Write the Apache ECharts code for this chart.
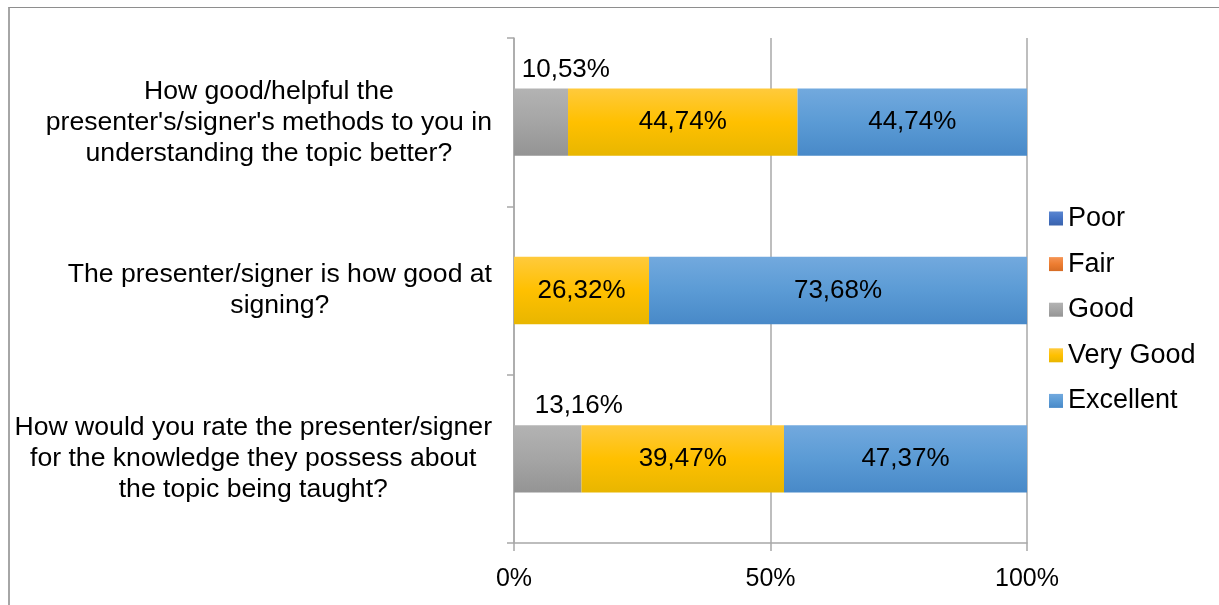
<!DOCTYPE html>
<html><head><meta charset="utf-8">
<script src="https://cdn.jsdelivr.net/npm/echarts@6/dist/echarts.min.js"></script>
<style>
html,body{margin:0;padding:0;background:#fff;overflow:hidden}
#c{width:1219px;height:605px}
#frame{position:absolute;left:8px;top:7px;width:1400px;height:800px;border-top:1px solid #8e8e8e;border-left:2px solid #a6a6a6;pointer-events:none}
</style></head><body><div id="c"></div><div id="frame"></div>
<script>
const categories = [
  "How good/helpful the\npresenter's/signer's methods to you in\nunderstanding the topic better?",
  "The presenter/signer is how good at\nsigning?",
  "How would you rate the presenter/signer\nfor the knowledge they possess about\nthe topic being taught?"
];
const seriesNames = ['Poor', 'Fair', 'Good', 'Very Good', 'Excellent'];
const poor = [0, 0, 0];
const fair = [0, 0, 0];
const good = [10.53, 0, 13.16];
const veryGood = [44.74, 26.32, 39.47];
const excellent = [44.74, 73.68, 47.37];
const xTickValues = [0, 50, 100];

const FONT = '"Liberation Sans", Arial, sans-serif';
function grad(a, b, c) {
  return new echarts.graphic.LinearGradient(0, 0, 0, 1, [
    {offset: 0, color: a}, {offset: 0.5, color: b}, {offset: 1, color: c}
  ]);
}
const colors = [
  grad('#5b86d0', '#4472c4', '#3a63ab'),
  grad('#f59454', '#ed7d31', '#d66c25'),
  grad('#b3b3b3', '#a5a5a5', '#949494'),
  grad('#ffca3c', '#ffc000', '#e8b600'),
  grad('#72a9de', '#5b9bd5', '#4889c8')
];
function fmt(v) { return v.toFixed(2).replace('.', ',') + '%'; }

const insideLabel = {
  show: true, position: 'inside', color: '#000', fontFamily: FONT, fontSize: 26,
  formatter: p => p.value ? fmt(p.value) : ''
};
const aboveLabel = {
  show: true, position: ['96%', -19], align: 'center', verticalAlign: 'middle',
  color: '#000', fontFamily: FONT, fontSize: 26,
  formatter: p => p.value ? fmt(p.value) : ''
};
const dataSets = [poor, fair, good, veryGood, excellent];
const labels = [{show: false}, {show: false}, aboveLabel, insideLabel, insideLabel];

const series = seriesNames.map((n, i) => ({
  name: n, type: 'bar', stack: 'total', barWidth: '40%',
  data: dataSets[i],
  itemStyle: {color: colors[i]},
  label: labels[i],
  emphasis: {disabled: true}
}));

const gridColor = '#a8a8a8';
const chart = echarts.init(document.getElementById('c'), null, {renderer: 'canvas'});
chart.setOption({
  animation: false,
  backgroundColor: '#fff',
  grid: {left: 514, right: 192, top: 38, bottom: 62, containLabel: false},
  legend: {
    orient: 'vertical', left: 1049, top: 205, padding: 0,
    itemWidth: 14, itemHeight: 14, itemGap: 18.6,
    data: seriesNames,
    textStyle: {fontFamily: FONT, fontSize: 27, lineHeight: 27, color: '#000'},
    icon: 'rect', selectedMode: false
  },
  xAxis: {
    type: 'value', min: 0, max: 100, interval: 50,
    axisLine: {show: true, lineStyle: {color: gridColor, width: 1.5}},
    axisTick: {show: true, length: 8, lineStyle: {color: gridColor, width: 1.5}},
    splitLine: {show: true, lineStyle: {color: gridColor, width: 1.5}},
    axisLabel: {
      margin: 24, color: '#000', fontFamily: FONT, fontSize: 25,
      customValues: xTickValues,
      formatter: v => v + '%'
    }
  },
  yAxis: {
    type: 'category', inverse: true, data: categories,
    axisLine: {show: true, lineStyle: {color: gridColor, width: 1.5}},
    axisTick: {show: true, length: 7, lineStyle: {color: gridColor, width: 1.5}},
    splitLine: {show: false},
    axisLabel: {
      margin: 22, color: '#000', fontFamily: FONT, fontSize: 26.6, lineHeight: 31,
      formatter: v => v.split('\n').map(l => '{c|' + l + '}').join('\n'),
      rich: {c: {align: 'center', fontFamily: FONT, fontSize: 26.6, lineHeight: 31, color: '#000'}}
    }
  },
  series: series
});
</script></body></html>
